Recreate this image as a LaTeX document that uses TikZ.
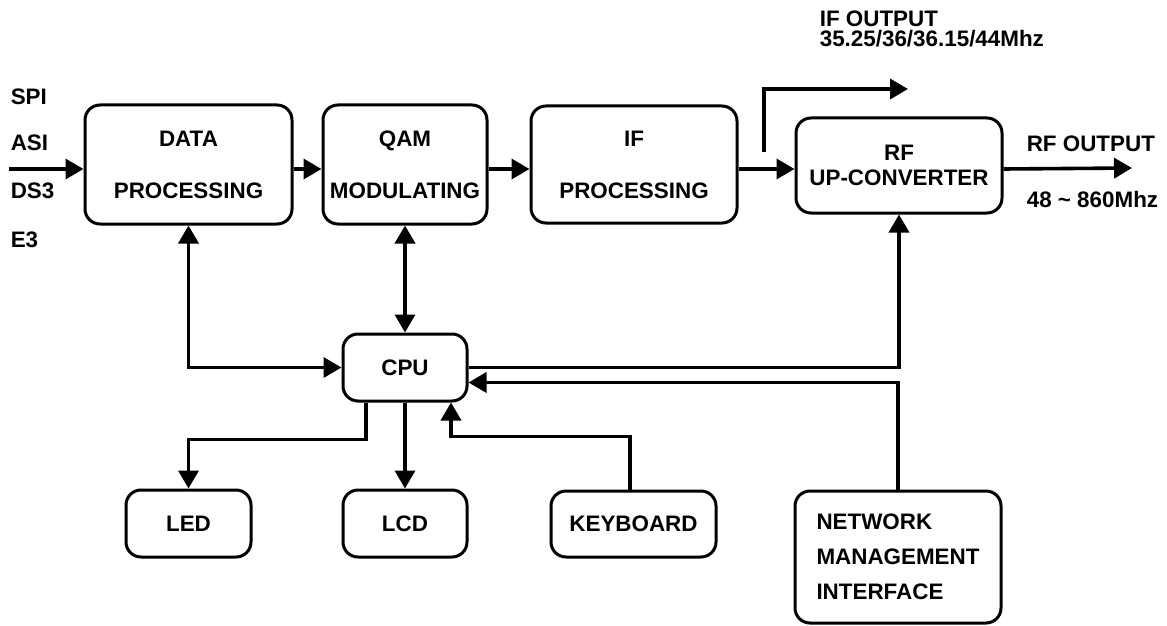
\documentclass[tikz,border=0pt]{standalone}
\usepackage{fontspec}
\setmainfont{Liberation Sans}
\usetikzlibrary{arrows.meta}

\begin{document}
\begin{tikzpicture}[x=0.5pt,y=-0.5pt,line width=1.8pt,
    block/.style={draw,rectangle,rounded corners=7.5pt,line width=1.5pt,align=center,inner sep=0pt,
      font=\bfseries\fontsize{11.2}{26}\selectfont},
    txt/.style={anchor=west,inner sep=0pt,align=left,font=\bfseries\fontsize{11.2}{10}\selectfont},
    link/.style={-{Triangle[length=9pt,width=10pt]}},
    both/.style={{Triangle[length=9pt,width=10pt]}-{Triangle[length=9pt,width=10pt]}}]
      \useasboundingbox (0,0) rectangle (1167,626);

      % top row
      \node [block,minimum width=103.5pt,minimum height=59.5pt] (data) at (188.5,164.5) {DATA\\PROCESSING};
      \node [block,minimum width=82pt,minimum height=59.5pt] (qam) at (405,164.5) {QAM\\MODULATING};
      \node [block,minimum width=103pt,minimum height=58.5pt] (ifp) at (634,164.5) {IF\\PROCESSING};
      \node [block,minimum width=103pt,minimum height=47.5pt,font=\bfseries\fontsize{11.2}{12.5}\selectfont] (rf) at (899,165.5) {RF\\UP-CONVERTER};

      % control part
      \node [block,minimum width=62pt,minimum height=33.5pt] (cpu) at (405,367.5) {CPU};
      \node [block,minimum width=62.5pt,minimum height=33.5pt] (led) at (188.5,523.5) {LED};
      \node [block,minimum width=62pt,minimum height=33.5pt] (lcd) at (405,523.5) {LCD};
      \node [block,minimum width=82.5pt,minimum height=33pt] (key) at (633.5,524) {KEYBOARD};
      \node [block,minimum width=103pt,minimum height=66pt,align=left,
        font=\bfseries\fontsize{11.2}{17.5}\selectfont] (nmi) at (898,557) {NETWORK\\MANAGEMENT\\INTERFACE};

      % inputs and outputs
      \node [txt] (spi) at (9,97) {SPI};
      \node [txt] (asi) at (9,143) {ASI};
      \node [txt] (ds3) at (9,191) {DS3};
      \node [txt] (e3) at (9,240) {E3};
      \node [txt] (ifoutlbl) at (818,29) {IF OUTPUT\\35.25/36/36.15/44Mhz};
      \node [txt] (rfoutlbl) at (1025,144) {RF OUTPUT};
      \node [txt] (rfband) at (1025,199) {48 \textasciitilde{} 860Mhz};

      \coordinate (in) at (9,169);
      \coordinate (iftap) at (764,152);
      \coordinate (ifout) at (908,89);
      \coordinate (rfout) at (1132,168);

      % signal path
      \draw [link] (in) -- (in -| data.west);
      \draw [link] (in -| data.east) -- (in -| qam.west);
      \draw [link] (in -| qam.east) -- (in -| ifp.west);
      \draw [link] (in -| ifp.east) -- (in -| rf.west);
      \draw [link] (iftap) |- (ifout);
      \draw [link] (in -| rf.east) -- (rfout);

      % control
      \draw [both] (data.south) |- (cpu.west);
      \draw [both] (qam.south) -- (cpu.north);
      \draw [link] (cpu.east) -| (rf.south);
      \draw [link] (nmi.north) |- ([yshift=-7.5pt]cpu.east);
      \draw [link] ([xshift=-19.5pt]cpu.south) -- ++(0,37) -| (led.north);
      \draw [link] (cpu.south) -- (lcd.north);
      \draw [link] ([xshift=-1.75pt]key.north) -- ++(0,-53) -| ([xshift=23pt]cpu.south);
    \end{tikzpicture}
\end{document}
